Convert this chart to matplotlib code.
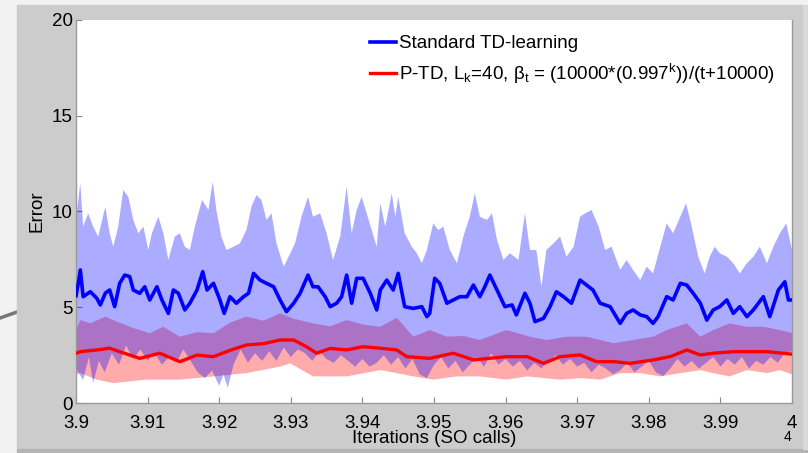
import numpy as np
import matplotlib
matplotlib.use("Agg")
import matplotlib.pyplot as plt
from matplotlib.patches import Rectangle
from matplotlib.lines import Line2D

plt.rcParams['font.family'] = ['Liberation Sans', 'DejaVu Sans']
plt.rcParams['mathtext.fontset'] = 'custom'
plt.rcParams['mathtext.rm'] = 'Liberation Sans'
plt.rcParams['mathtext.it'] = 'Liberation Sans'
plt.rcParams['mathtext.sf'] = 'Liberation Sans'

# ---------------- data (iterations in units of 1e4) ----------------
bm_t = [3.9000, 3.9003, 3.9006, 3.9010, 3.9020, 3.9029, 3.9034, 3.9041, 3.9047, 3.9054, 3.9061, 3.9068, 3.9075, 3.9080, 3.9089, 3.9096, 3.9103, 3.9113, 3.9120, 3.9129, 3.9136, 3.9143, 3.9152, 3.9159, 3.9169, 3.9177, 3.9183, 3.9192, 3.9201, 3.9207, 3.9215, 3.9224, 3.9234, 3.9241, 3.9248, 3.9257, 3.9266, 3.9276, 3.9285, 3.9294, 3.9304, 3.9313, 3.9324, 3.9331, 3.9338, 3.9348, 3.9355, 3.9364, 3.9371, 3.9378, 3.9385, 3.9392, 3.9401, 3.9411, 3.9420, 3.9425, 3.9434, 3.9443, 3.9450, 3.9459, 3.9471, 3.9483, 3.9490, 3.9494, 3.9501, 3.9508, 3.9518, 3.9527, 3.9536, 3.9546, 3.9555, 3.9564, 3.9571, 3.9578, 3.9588, 3.9599, 3.9609, 3.9615, 3.9627, 3.9634, 3.9641, 3.9653, 3.9662, 3.9671, 3.9681, 3.9692, 3.9704, 3.9713, 3.9722, 3.9732, 3.9746, 3.9760, 3.9769, 3.9778, 3.9788, 3.9797, 3.9806, 3.9813, 3.9825, 3.9834, 3.9844, 3.9853, 3.9862, 3.9872, 3.9881, 3.9890, 3.9899, 3.9909, 3.9918, 3.9927, 3.9937, 3.9946, 3.9960, 3.9969, 3.9981, 3.9990, 3.9995, 4.0000]
bm_v = [5.6, 6.2, 6.95, 5.55, 5.81, 5.47, 5.12, 5.74, 5.90, 5.03, 6.25, 6.68, 6.60, 5.90, 5.73, 6.07, 5.38, 6.07, 5.38, 4.68, 5.90, 5.73, 4.86, 5.21, 5.90, 6.86, 5.90, 6.25, 5.38, 4.68, 5.55, 5.21, 5.55, 5.73, 6.77, 6.42, 6.25, 6.07, 5.38, 4.77, 5.21, 5.73, 6.68, 6.07, 6.07, 5.55, 5.03, 5.21, 5.55, 6.68, 5.21, 6.51, 6.51, 5.73, 4.86, 5.90, 6.42, 5.90, 6.77, 5.03, 4.94, 5.03, 4.51, 4.68, 6.51, 6.25, 5.21, 5.38, 5.55, 5.55, 6.16, 5.55, 6.07, 6.68, 5.90, 5.03, 5.12, 4.60, 5.73, 5.21, 4.25, 4.42, 5.03, 5.81, 5.55, 5.21, 6.42, 6.16, 5.90, 5.21, 5.03, 4.16, 4.68, 4.86, 4.60, 4.51, 4.16, 4.51, 5.55, 5.38, 6.25, 6.16, 5.73, 5.21, 4.33, 4.86, 5.03, 5.38, 4.68, 5.03, 4.51, 4.86, 5.55, 4.51, 5.90, 6.33, 5.38, 5.38]

bu_t = [3.9000, 3.9006, 3.9010, 3.9017, 3.9024, 3.9031, 3.9041, 3.9047, 3.9052, 3.9059, 3.9066, 3.9073, 3.9080, 3.9087, 3.9094, 3.9101, 3.9106, 3.9115, 3.9122, 3.9129, 3.9138, 3.9145, 3.9152, 3.9159, 3.9166, 3.9176, 3.9185, 3.9191, 3.9196, 3.9203, 3.9210, 3.9220, 3.9229, 3.9238, 3.9245, 3.9252, 3.9259, 3.9266, 3.9273, 3.9280, 3.9290, 3.9297, 3.9306, 3.9315, 3.9324, 3.9331, 3.9341, 3.9350, 3.9359, 3.9369, 3.9378, 3.9385, 3.9392, 3.9399, 3.9406, 3.9413, 3.9420,
        3.9425, 3.9432, 3.9441, 3.9446, 3.9450, 3.9459, 3.9469, 3.9476, 3.9483, 3.9490, 3.9499, 3.9506, 3.9513, 3.9522, 3.9532, 3.9541, 3.9550, 3.9557, 3.9564, 3.9574, 3.9581, 3.9588, 3.9597, 3.9606, 3.9618, 3.9627, 3.9634, 3.9643, 3.9650, 3.9657, 3.9667, 3.9676, 3.9685, 3.9695, 3.9704, 3.9711, 3.9720, 3.9730, 3.9739, 3.9748, 3.9760, 3.9769, 3.9778, 3.9788, 3.9797, 3.9806, 3.9816, 3.9825, 3.9834, 3.9844, 3.9852, 3.9860, 3.9869, 3.9878, 3.9885, 3.9892, 3.9899, 3.9909, 3.9918, 3.9927, 3.9937, 3.9946, 3.9955, 3.9965, 3.9974, 3.9983, 3.9992, 4.0000]
bu_v = [9.6, 11.47, 9.21, 9.9, 9.21, 8.69, 10.25, 8.86, 8.16, 9.21, 11.12, 10.77, 9.56, 8.86, 9.21, 7.99, 8.86, 9.73, 8.86, 7.47, 8.69, 8.86, 8.16, 7.99, 9.21, 10.6, 10.08, 11.56, 10.08, 8.69, 7.99, 8.16, 8.34, 9.03, 10.25, 10.86, 10.6, 9.56, 9.9, 8.34, 7.12, 7.64, 8.34, 9.73, 10.77, 9.73, 9.9, 8.86, 7.47, 8.69, 11.29, 8.86, 10.08, 10.77, 9.9, 9.03, 8.16,
        10.43, 9.21, 10.95, 9.73, 10.77, 8.86, 8.16, 7.82, 7.3, 7.99, 9.38, 9.03, 9.21, 7.99, 7.3, 8.69, 9.73, 10.95, 9.73, 9.56, 9.9, 8.51, 7.47, 7.82, 7.47, 9.9, 7.99, 7.99, 6.07, 7.99, 8.34, 8.69, 7.64, 8.16, 9.73, 9.9, 10.08, 9.21, 7.99, 8.16, 6.95, 7.47, 6.95, 6.42, 7.12, 6.77, 8.16, 9.38, 8.86, 9.73, 10.43, 9.21, 7.64, 6.77, 7.64, 8.16, 7.82, 7.64, 7.3, 6.77, 7.3, 7.64, 8.16, 7.3, 8.16, 8.86, 9.38, 7.99]

bl_t = [3.9000, 3.9010, 3.9018, 3.9024, 3.9032, 3.9040, 3.9050, 3.9060, 3.9070, 3.9080, 3.9090, 3.9100, 3.9110, 3.9120, 3.9130, 3.9140, 3.9150, 3.9160, 3.9170, 3.9180, 3.9190, 3.9200, 3.9206, 3.9212, 3.9220, 3.9230, 3.9240, 3.9250, 3.9260, 3.9270, 3.9280, 3.9290, 3.9300, 3.9310, 3.9320, 3.9330, 3.9340, 3.9350, 3.9360, 3.9370, 3.9380, 3.9390, 3.9400, 3.9410, 3.9420, 3.9430, 3.9440, 3.9450, 3.9460, 3.9470, 3.9480, 3.9490, 3.9500, 3.9510, 3.9520, 3.9530, 3.9540, 3.9550, 3.9560, 3.9570, 3.9580, 3.9590, 3.9600, 3.9610, 3.9620, 3.9630, 3.9640, 3.9650, 3.9660, 3.9670, 3.9680, 3.9690, 3.9700, 3.9710, 3.9720, 3.9730, 3.9740, 3.9750, 3.9760, 3.9770, 3.9780, 3.9790, 3.9800, 3.9810, 3.9820, 3.9830, 3.9840, 3.9850, 3.9860, 3.9870, 3.9880, 3.9890, 3.9900, 3.9910, 3.9920, 3.9930, 3.9940, 3.9950, 3.9960, 3.9970, 3.9980, 3.9990, 4.0000]
bl_v = [1.8, 1.2, 2.4, 1.05, 2.2, 1.6, 2.6, 2.0, 3.0, 2.3, 2.8, 2.2, 2.6, 2.0, 2.4, 2.1, 2.8, 2.2, 1.6, 1.3, 1.7, 0.9, 1.5, 0.8, 2.0, 2.8, 2.1, 2.6, 2.2, 2.7, 2.2, 2.9, 2.4, 2.8, 2.6, 2.2, 2.7, 2.3, 2.1, 2.5, 2.2, 1.9, 2.3, 1.9, 2.1, 2.5, 2.0, 2.4, 1.8, 2.3, 1.5, 1.3, 2.0, 2.4, 1.8, 2.2, 1.6, 2.0, 2.4, 1.9, 2.6, 2.0, 2.3, 1.9, 2.2, 1.7, 2.1, 1.8, 2.2, 2.5, 2.0, 2.3, 1.9, 2.1, 1.6, 2.0, 1.8, 1.5, 1.7, 2.1, 1.6, 1.9, 2.2, 1.6, 1.4, 1.8, 2.3, 1.9, 2.2, 1.8, 2.1, 2.4, 1.9, 2.3, 2.0, 2.4, 1.8, 2.2, 2.0, 2.4, 2.1, 2.6, 2.7]

rm_t = [3.9000, 3.9006, 3.9029, 3.9047, 3.9061, 3.9089, 3.9117, 3.9145, 3.9169, 3.9192, 3.9215, 3.9238, 3.9262, 3.9285, 3.9304, 3.9322, 3.9336, 3.9355, 3.9378, 3.9401, 3.9425, 3.9448, 3.9462, 3.9494, 3.9527, 3.9555, 3.9601, 3.9630, 3.9653, 3.9676, 3.9704, 3.9727, 3.9751, 3.9774, 3.9806, 3.9830, 3.9853, 3.9872, 3.9890, 3.9918, 3.9937, 3.9965, 4.0000]
rm_v = [2.6, 2.68, 2.77, 2.86, 2.68, 2.33, 2.6, 2.16, 2.5, 2.42, 2.75, 3.03, 3.1, 3.29, 3.29, 2.94, 2.6, 2.85, 2.77, 2.94, 2.86, 2.77, 2.42, 2.33, 2.6, 2.25, 2.42, 2.42, 2.07, 2.42, 2.51, 2.16, 2.16, 2.07, 2.25, 2.42, 2.77, 2.51, 2.6, 2.68, 2.68, 2.68, 2.55]

ru_t = [3.9000, 3.9006, 3.9020, 3.9041, 3.9052, 3.9075, 3.9103, 3.9122, 3.9145, 3.9169, 3.9192, 3.9215, 3.9238, 3.9262, 3.9285, 3.9304, 3.9331, 3.9355, 3.9378, 3.9401, 3.9425, 3.9448, 3.9471, 3.9494, 3.9518, 3.9541, 3.9564, 3.9601, 3.9634, 3.9657, 3.9685, 3.9713, 3.9751, 3.9778, 3.9806, 3.9825, 3.9853, 3.9872, 3.9890, 3.9913, 3.9937, 3.9960, 3.9983, 4.0000]
ru_v = [3.8, 4.33, 4.16, 4.51, 4.33, 3.98, 3.64, 3.98, 3.46, 3.7, 3.64, 4.2, 4.51, 4.3, 4.68, 4.4, 4.16, 4.0, 4.33, 4.1, 3.98, 4.45, 3.46, 3.81, 3.46, 3.5, 3.29, 3.81, 3.46, 3.29, 3.46, 3.46, 3.12, 3.29, 3.46, 3.81, 4.16, 3.46, 3.81, 4.16, 3.98, 3.98, 3.81, 3.65]

rl_t = [3.9000, 3.9006, 3.9029, 3.9052, 3.9098, 3.9145, 3.9192, 3.9238, 3.9285, 3.9299, 3.9331, 3.9378, 3.9425, 3.9448, 3.9471, 3.9499, 3.9532, 3.9564, 3.9601, 3.9630, 3.9676, 3.9704, 3.9732, 3.9760, 3.9788, 3.9816, 3.9844, 3.9872, 3.9890, 3.9913, 3.9937, 3.9965, 3.9983, 4.0000]
rl_v = [1.5, 1.56, 1.22, 1.04, 1.22, 1.22, 1.39, 1.56, 1.9, 2.07, 1.39, 1.39, 1.72, 1.56, 1.39, 1.22, 1.39, 1.39, 1.22, 1.39, 1.22, 1.30, 1.22, 1.56, 1.56, 1.39, 1.56, 1.72, 1.56, 1.39, 1.72, 1.56, 1.72, 1.5]

for a, b in [(bm_t, bm_v), (bu_t, bu_v), (bl_t, bl_v), (rm_t, rm_v), (ru_t, ru_v), (rl_t, rl_v)]:
    assert len(a) == len(b), (len(a), len(b))

x_ticks = [3.9, 3.91, 3.92, 3.93, 3.94, 3.95, 3.96, 3.97, 3.98, 3.99, 4.0]
x_tick_labels = ['3.9', '3.91', '3.92', '3.93', '3.94', '3.95', '3.96', '3.97', '3.98', '3.99', '4']
y_ticks = [0, 5, 10, 15, 20]

label_std = 'Standard TD-learning'
label_ptd = 'P-TD, L$_{\\mathrm{k}}$=40, \u03b2$_{\\mathrm{t}}$ = (10000*(0.997$^{\\mathrm{k}}$))/(t+10000)'

# ---------------- figure ----------------
W, H = 808, 453
fig = plt.figure(figsize=(W / 100, H / 100), dpi=100, facecolor='#f2f2f2')

def px_rect(x0, y0, x1, y1, color):
    fig.patches.append(Rectangle((x0 / W, 1 - y1 / H), (x1 - x0) / W, (y1 - y0) / H,
                                 transform=fig.transFigure, color=color, zorder=-10))

px_rect(17, 5, 803, 449, '#cccccc')
px_rect(17, 449, 808, 453, '#b4b4b4')
px_rect(803, 5, 808, 449, '#d9d9d9')
ln = Line2D([0 / W, 17 / W], [1 - 318 / H, 1 - 312 / H], transform=fig.transFigure,
            color='#777777', lw=2.5)
ln.set_zorder(-10)
fig.add_artist(ln)

ax = fig.add_axes([76 / W, 1 - 403 / H, 716 / W, 383 / H])
ax.set_zorder(5)
ax.set_facecolor('white')

ru = np.array(ru_v); rl = np.array(rl_v)
ax.fill(np.concatenate([ru_t, rl_t[::-1]]), np.concatenate([ru, rl[::-1]]),
        color='#ff0000', alpha=0.33, lw=0, zorder=1)
bu = np.array(bu_v); bl = np.array(bl_v)
ax.fill(np.concatenate([bu_t, bl_t[::-1]]), np.concatenate([bu, bl[::-1]]),
        color='#0000ff', alpha=0.33, lw=0, zorder=2)
ax.plot(bm_t, bm_v, color='#0000ff', lw=2.6, zorder=3, label=label_std)
ax.plot(rm_t, rm_v, color='#ff0000', lw=2.4, zorder=4, label=label_ptd)

ax.set_xlim(3.9, 4.0)
ax.set_ylim(0, 20)
ax.set_xticks(x_ticks)
ax.set_xticklabels(x_tick_labels)
ax.set_yticks(y_ticks)
ax.tick_params(direction='in', length=4, width=0.8, color='#888888', labelsize=13.5,
               labelcolor='black')
ax.tick_params(axis='x', pad=8.5)
ax.tick_params(axis='y', pad=2.5)
for s in ['left', 'bottom', 'right']:
    ax.spines[s].set_color('#999999')
    ax.spines[s].set_linewidth(1.0)
ax.spines['top'].set_visible(False)

ax.set_xlabel('Iterations (SO calls)', fontsize=13.5, labelpad=-1)
ax.set_ylabel('Error', fontsize=13.5, labelpad=4)

fig.text(788 / W, 1 - 437 / H, '4', fontsize=10, ha='center', va='center')

leg = ax.legend(loc='upper left', bbox_to_anchor=(370 / W, 1 - 35 / H),
                bbox_transform=fig.transFigure, frameon=False, fontsize=13.5,
                handlelength=1.4, handletextpad=0.15, borderpad=0, borderaxespad=0,
                labelspacing=0.5)

fig.savefig('out.png', dpi=100, facecolor=fig.get_facecolor())
